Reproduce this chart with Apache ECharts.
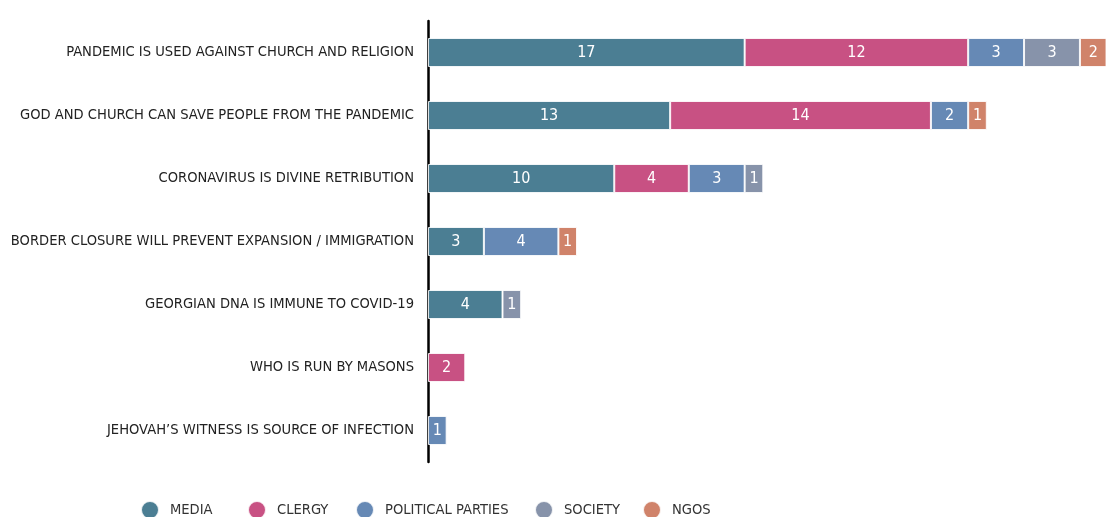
<!DOCTYPE html>
<html><head><meta charset="utf-8">
<script src="https://cdn.jsdelivr.net/npm/echarts@6/dist/echarts.min.js"></script>
<style>html,body{margin:0;padding:0;background:#fff}#c{width:1106px;height:517px}</style>
</head><body><div id="c"></div>
<script>
const categories = [
  "PANDEMIC IS USED AGAINST CHURCH AND RELIGION",
  "GOD AND CHURCH CAN SAVE PEOPLE FROM THE PANDEMIC",
  "CORONAVIRUS IS DIVINE RETRIBUTION",
  "BORDER CLOSURE WILL PREVENT EXPANSION / IMMIGRATION",
  "GEORGIAN DNA IS IMMUNE TO COVID-19",
  "WHO IS RUN BY MASONS",
  "JEHOVAH\u2019S WITNESS IS SOURCE OF INFECTION"
];
const seriesNames = ["MEDIA", "CLERGY", "POLITICAL PARTIES", "SOCIETY", "NGOS"];
const media     = [17, 13, 10, 3, 4, 0, 0];
const clergy    = [12, 14, 4, 0, 0, 2, 0];
const political = [3, 2, 3, 4, 0, 0, 1];
const society   = [3, 0, 1, 0, 1, 0, 0];
const ngos      = [2, 1, 0, 1, 0, 0, 0];
const colors = ["#4b7e93", "#c85183", "#6689b5", "#8793aa", "#d0836a"];
const legendLefts = [140, 247, 355, 534, 642];

const FONT = "'Liberation Sans Narrow','DejaVu Sans Condensed','Roboto',sans-serif";
const values = [media, clergy, political, society, ngos];
const series = seriesNames.map((n, i) => ({
  name: n,
  type: 'bar',
  stack: 'total',
  barWidth: 29,
  data: values[i].map(v => v === 0 ? '-' : v),
  itemStyle: { color: colors[i], borderColor: 'rgba(255,255,255,0.85)', borderWidth: 1 },
  label: { show: true, position: 'inside', color: '#fff', fontFamily: FONT, fontSize: 16 },
  emphasis: { disabled: true }
}));

const legends = seriesNames.map((n, i) => ({
  bottom: -3, left: legendLefts[i], itemWidth: 18, itemHeight: 18,
  padding: 0,
  icon: 'circle',
  selectedMode: false,
  textStyle: { color: '#333', fontSize: 14.6, fontFamily: FONT, padding: [0, 0, 0, 6] },
  data: [n]
}));

const chart = echarts.init(document.getElementById('c'), null, { renderer: 'canvas' });
chart.setOption({
  animation: false,
  color: colors,
  textStyle: { fontFamily: FONT },
  grid: { left: 428, top: 21, right: 0, height: 441, containLabel: false },
  xAxis: { type: 'value', min: 0, max: 36.4, show: false },
  yAxis: {
    type: 'category', data: categories, inverse: true,
    axisLine: { show: true, lineStyle: { color: '#000', width: 2.5 } },
    axisTick: { show: false },
    axisLabel: { color: '#222', fontSize: 14.6, fontFamily: FONT, margin: 14 }
  },
  legend: legends,
  series: series
});
</script></body></html>
